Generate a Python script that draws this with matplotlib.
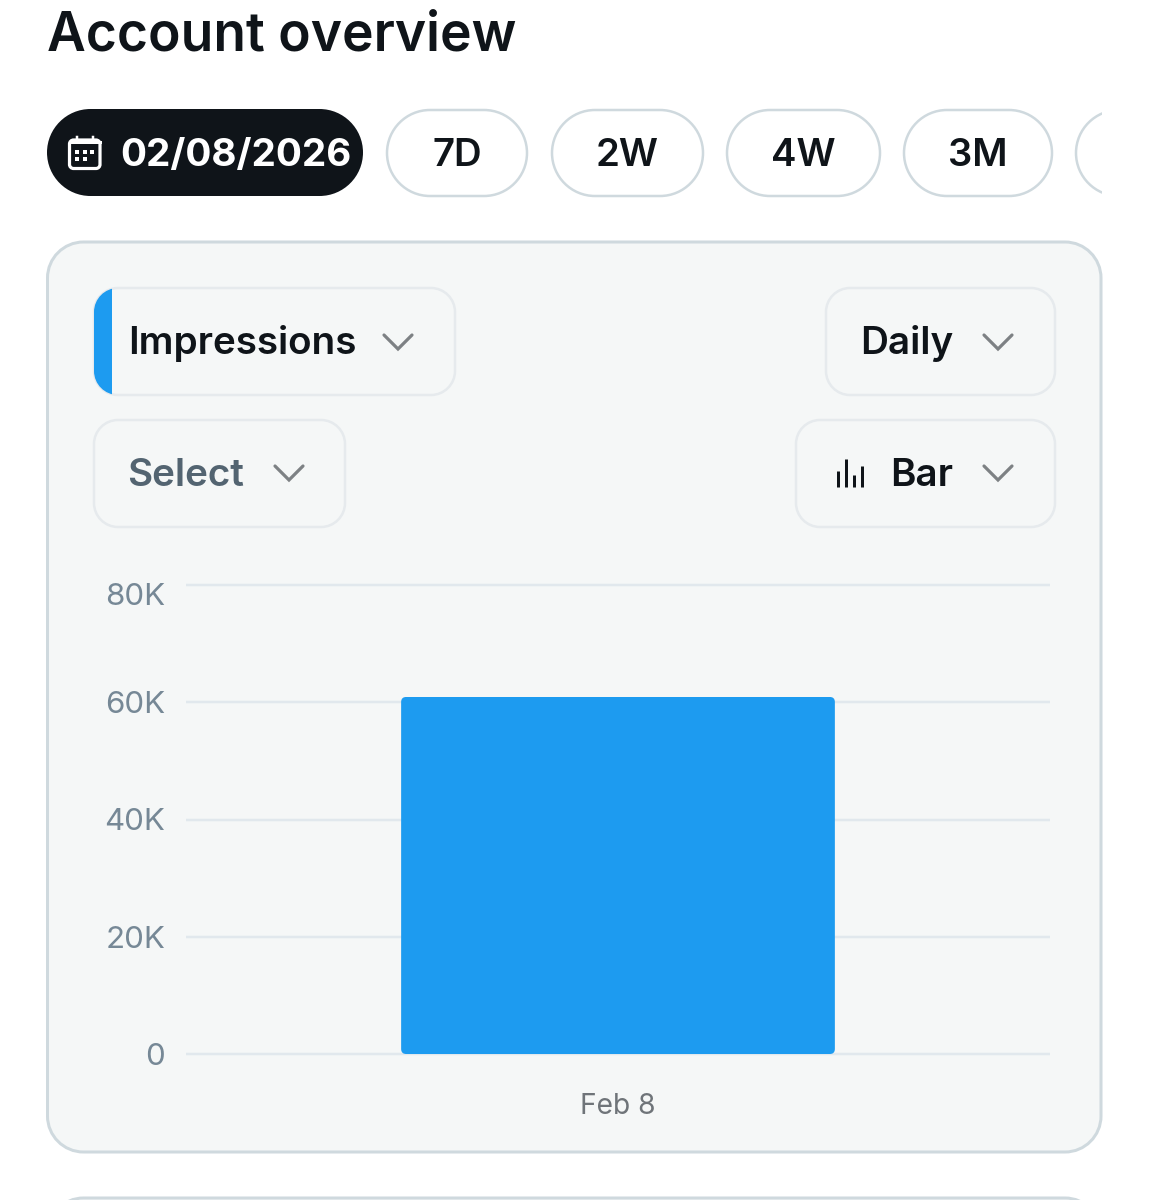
"""Account overview card with a single daily impressions bar."""

import matplotlib
matplotlib.use("Agg")
import matplotlib.pyplot as plt
from matplotlib.patches import FancyBboxPatch, PathPatch, Rectangle
from matplotlib.path import Path
from matplotlib.transforms import IdentityTransform, ScaledTranslation

plt.rcParams["font.family"] = ["Inter", "DejaVu Sans"]

W, H = 1149, 1200
PX = 72 / 100  # points per pixel at dpi 100

# data
categories = ["Feb 8"]
impressions = [60900]
y_ticks = [0, 20000, 40000, 60000, 80000]
y_tick_labels = ["0", "20K", "40K", "60K", "80K"]
range_pills = ["7D", "2W", "4W", "3M"]
date_label = "02/08/2026"

INK = "#0f1419"
BLUE = "#1d9bf0"
PANEL = "#f5f7f7"
PANEL_EDGE = "#cfd9de"
DROP_EDGE = "#e6eaed"
GRID = "#e1e8ed"


def rounded(ax, x0, y0, x1, y1, r, fc, ec, lw):
    # circular corners, the fancy box style only gives squircles
    k = r * 0.448
    verts = [(x0 + r, y0), (x1 - r, y0),
             (x1 - k, y0), (x1, y0 + k), (x1, y0 + r),
             (x1, y1 - r),
             (x1, y1 - k), (x1 - k, y1), (x1 - r, y1),
             (x0 + r, y1),
             (x0 + k, y1), (x0, y1 - k), (x0, y1 - r),
             (x0, y0 + r),
             (x0, y0 + k), (x0 + k, y0), (x0 + r, y0),
             (x0 + r, y0)]
    codes = [Path.MOVETO, Path.LINETO,
             Path.CURVE4, Path.CURVE4, Path.CURVE4,
             Path.LINETO,
             Path.CURVE4, Path.CURVE4, Path.CURVE4,
             Path.LINETO,
             Path.CURVE4, Path.CURVE4, Path.CURVE4,
             Path.LINETO,
             Path.CURVE4, Path.CURVE4, Path.CURVE4,
             Path.CLOSEPOLY]
    patch = PathPatch(Path(verts, codes), fc=fc, ec=ec, lw=lw * PX)
    ax.add_patch(patch)
    return patch


def chevron(ax, cx, cy):
    ax.plot([cx - 14, cx, cx + 14], [cy - 7, cy + 7, cy - 7], color="#7d8184",
            lw=3.2 * PX, solid_capstyle="round", solid_joinstyle="miter")


fig = plt.figure(figsize=(W / 100, H / 100), dpi=100, facecolor="white")

ui = fig.add_axes([0, 0, 1, 1], zorder=0)
ui.set_xlim(0, W)
ui.set_ylim(H, 0)
ui.axis("off")

ui.text(47, 36, "Account overview", fontsize=38.4, fontweight="semibold",
        color=INK, va="center", ha="left")

# date pill and calendar icon
rounded(ui, 47, 109, 363, 196, 43.5, INK, INK, 0)
rounded(ui, 69.5, 140, 100, 168.5, 4, "none", "white", 3.2)
ui.plot([70, 100], [142, 142], color="white", lw=3 * PX)
ui.plot([77, 77], [137, 141], color="white", lw=2.5 * PX)
ui.plot([93, 93], [137, 141], color="white", lw=2.5 * PX)
for dx, dy in [(77, 152), (85, 152), (92, 152), (77, 159), (85, 159)]:
    ui.add_patch(Rectangle((dx - 1.6, dy - 1.6), 3.2, 3.2, fc="white", ec="none"))
ui.text(235.5, 156, date_label, fontsize=27.8, fontweight="bold", color="white",
        ha="center", va="center")

# range pills, the last one runs off the scroll area
pill_spans = [(387, 527), (552, 703), (727, 880), (904, 1052)]
for label, (x0, x1) in zip(range_pills, pill_spans):
    rounded(ui, x0, 110, x1, 196, 43, "white", PANEL_EDGE, 2.5)
    ui.text((x0 + x1) / 2, 156, label, fontsize=27.6, fontweight="semibold",
            color=INK, ha="center", va="center")
cut = rounded(ui, 1076, 110, 1220, 196, 43, "white", PANEL_EDGE, 2.5)
cut.set_clip_path(Rectangle((0, 0), 1102, H, transform=ui.transData))

# chart panel
rounded(ui, 47.5, 242, 1101, 1152, 36, PANEL, PANEL_EDGE, 3)
rounded(ui, 47.5, 1198, 1101, 1320, 36, PANEL, PANEL_EDGE, 3)

# dropdowns
drop = rounded(ui, 94, 288, 455, 395, 24, PANEL, DROP_EDGE, 2.5)
strip = Rectangle((94, 288), 18, 107, fc=BLUE, ec="none")
ui.add_patch(strip)
strip.set_clip_path(drop)
rounded(ui, 826, 288, 1055, 395, 24, PANEL, DROP_EDGE, 2.5)
rounded(ui, 94, 420, 345, 527, 24, PANEL, DROP_EDGE, 2.5)
rounded(ui, 796, 420, 1055, 527, 24, PANEL, DROP_EDGE, 2.5)

ui.text(128, 344, "Impressions", fontsize=27.8, fontweight="semibold", color=INK,
        ha="left", va="center")
ui.text(860, 344, "Daily", fontsize=27.8, fontweight="semibold", color=INK,
        ha="left", va="center")
ui.text(127, 476, "Select", fontsize=27.8, fontweight="semibold", color="#536471",
        ha="left", va="center")
ui.text(890, 476, "Bar", fontsize=27.8, fontweight="semibold", color=INK,
        ha="left", va="center")
for cx, cy in [(398, 342), (998, 342), (289, 473), (998, 473)]:
    chevron(ui, cx, cy)
for x, top in [(838, 471), (846, 459), (854, 475), (862, 466)]:
    ui.plot([x, x], [487, top], color=INK, lw=3 * PX, solid_capstyle="butt")

# bar chart, axes span the gridlines
left, right, top, bottom = 186, 1050, 585, 1054
ax = fig.add_axes([left / W, 1 - bottom / H, (right - left) / W, (bottom - top) / H],
                  zorder=1)
ax.patch.set_alpha(0)
for spine in ax.spines.values():
    spine.set_visible(False)

bars = ax.bar(categories, impressions, width=0.502, color=BLUE, zorder=3)
ax.set_xlim(-0.5, 0.5)
ax.set_ylim(0, 80000)
ax.set_yticks(y_ticks)
ax.set_yticklabels(y_tick_labels)
ax.grid(axis="y", color=GRID, lw=2.5 * PX, zorder=1)
ax.grid(axis="x", visible=False)
for line in ax.get_ygridlines():
    line.set_clip_on(False)
    line.set_solid_capstyle("butt")
ax.tick_params(axis="both", length=0)
ax.tick_params(axis="y", labelsize=22.5, labelcolor="#768896", pad=15)
ax.tick_params(axis="x", labelsize=20.3, labelcolor="#6f7479", pad=28)

# the top label is pushed down to stay inside the plot area
top_label = ax.get_yticklabels()[-1]
top_label.set_transform(top_label.get_transform()
                        + ScaledTranslation(0, -9 / 100, fig.dpi_scale_trans))

fig.canvas.draw()
ext = bars[0].get_window_extent()
bars[0].set_clip_path(FancyBboxPatch((ext.x0 + 5, ext.y0 + 5), ext.width - 10, ext.height - 10,
                                     boxstyle="round,pad=5,rounding_size=5",
                                     transform=IdentityTransform()))

fig.savefig("out.png", dpi=100)
